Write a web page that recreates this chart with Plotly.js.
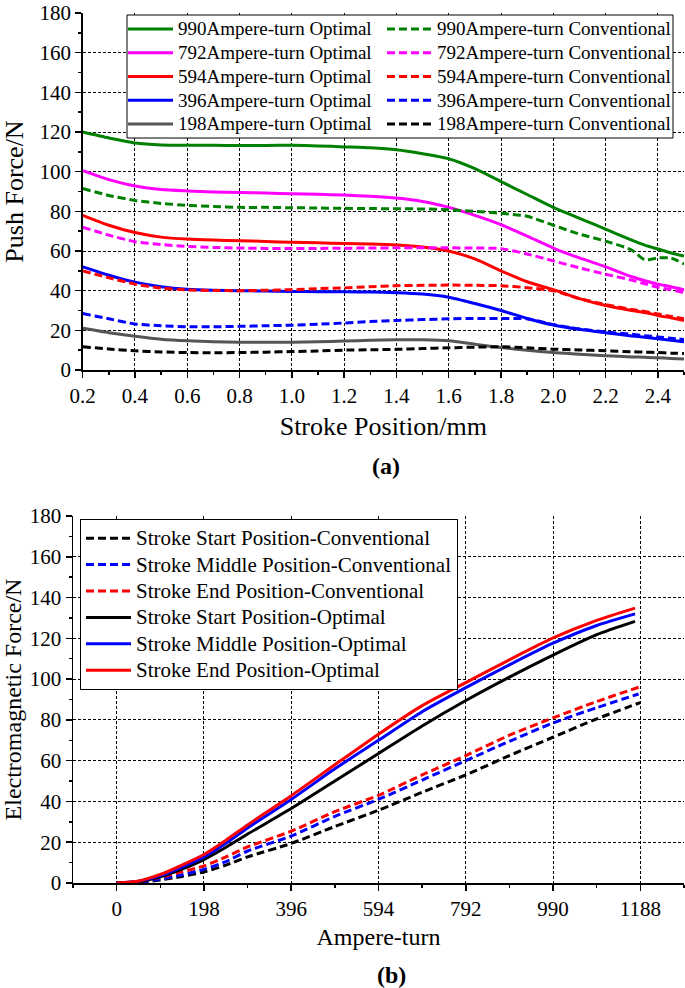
<!DOCTYPE html>
<html>
<head>
<meta charset="utf-8">
<script src="https://cdn.plot.ly/plotly-3.0.1.min.js"></script>
<style>html,body{margin:0;padding:0;background:#fff;}#chart{width:685px;height:988px;}</style>
</head>
<body>
<div id="chart"></div>
<script>
// ---------- (a) Push force vs stroke position ----------
const strokeX = [0.2,0.3,0.4,0.5,0.6,0.7,0.8,0.9,1.0,1.1,1.2,1.3,1.4,1.5,1.6,1.7,1.8,1.9,2.0,2.1,2.2,2.3,2.35,2.4,2.45,2.5];
const opt990  = [120,117,114.5,113.5,113.3,113.3,113.2,113.2,113.3,113,112.5,112,111,109,106.5,101.5,95,88.5,82,76.5,71,65.5,63,61,59,57.5];
const conv990 = [91.5,88,85.5,84,83,82.5,82,82,81.8,81.7,81.5,81.4,81.3,81.2,80.8,80,79,77.5,73,68.5,65,60.5,55.5,56.5,56.5,53.5];
const opt792  = [100.5,96,92.8,91,90.3,89.8,89.5,89.2,88.9,88.6,88.2,87.6,86.7,85,82,78,73.3,67.5,61.5,56.5,52,47,45,43.3,42,40.5];
const conv792 = [72,68,64.7,63.3,62.3,61.8,61.5,61.3,61.3,61.3,61.4,61.5,61.6,61.6,61.6,61.5,61.2,58.5,55,51.5,48.3,45.3,43.5,41.7,40.5,39];
const opt594  = [78,73,69.3,67,66,65.5,65.2,64.8,64.4,64.1,63.8,63.5,63,62,60,56,50,44.5,40.5,36,32.5,30,29,27.5,26.3,25];
const conv594 = [50,46.5,43.3,41.3,40.4,40.1,40,40.2,40.5,41,41.4,42,42.5,42.7,42.8,42.7,42.5,41.5,40,36,33,30.5,29.5,28.3,27,25.8];
const opt396  = [52,47.8,44.3,42,40.7,40.2,40,39.8,39.6,39.5,39.4,39.3,39,38.3,36.7,33.5,30,26,22.7,20.5,18.8,17.2,16.5,15.8,15,14.2];
const conv396 = [28.5,25.8,23.2,22.3,21.8,21.8,22,22.3,22.6,23.1,23.7,24.4,25,25.4,25.8,26,26,25.8,22.9,20.7,19.2,18,17.3,16.7,16,15.4];
const opt198  = [21,18.8,17,15.5,14.7,14.3,14,14,14,14.2,14.6,15,15.3,15.2,14.7,13,11.3,10,8.8,8,7.2,6.6,6.4,6.2,5.8,5.5];
const conv198 = [11.7,10.6,9.7,9.1,8.8,8.7,8.8,9,9.3,9.6,10,10.2,10.4,10.8,11.2,11.5,11.7,11.2,10.5,10.1,9.7,9.2,9,8.8,8.5,8.3];
const strokeTicks = [0.2,0.4,0.6,0.8,1.0,1.2,1.4,1.6,1.8,2.0,2.2,2.4];

// ---------- (b) Electromagnetic force vs ampere-turn ----------
const ampOpt  = [0,50,99,148,198,248,297,396,495,594,693,792,891,990,1089,1176];
const startOpt  = [0,0.6,3,6.8,11.5,17.5,24,36.5,50,63.5,77,89.5,101,111.8,121.8,128.3];
const middleOpt = [0,0.9,3.6,7.8,12.8,19.5,27,41,56,70,84,95.8,107,117.6,126.3,132];
const endOpt    = [0,1,4.2,8.8,14,21,28.5,42.8,58,73,87,98.3,109.5,120.2,128.8,134.8];
const ampConvStart = [0,50,99,148,198,248,297,396,495,594,693,792,891,990,1089,1188];
const ampConv      = [0,50,99,148,198,248,297,396,495,594,693,792,891,990,1089,1184];
const startConv  = [0,0.2,1.5,3.2,5.4,8.8,12.8,19.4,27.7,35.7,44.5,53,62.5,71.5,80.5,88.5];
const middleConv = [0,0.3,2,4,6.7,10.5,15.7,23,32.7,41,50.5,60,69.5,78.5,86,92.7];
const endConv    = [0,0.5,2.8,5.5,8.4,12.8,17.7,25.4,35,43,53,62.5,72.5,81,89,96];
const ampTicks = [0,198,396,594,792,990,1188];

const FONT = 'Liberation Serif, Times New Roman, serif';
const DASH = '8px,4px';
const LW = 3;
function nm(t, px){ return '<span style="font-size:' + px + 'px">' + t + '</span>'; }

const topSeries = [
  ['990Ampere-turn Optimal', opt990, '#008000', 'solid', 'legend'],
  ['792Ampere-turn Optimal', opt792, '#ff00ff', 'solid', 'legend'],
  ['594Ampere-turn Optimal', opt594, '#ff0000', 'solid', 'legend'],
  ['396Ampere-turn Optimal', opt396, '#0000ff', 'solid', 'legend'],
  ['198Ampere-turn Optimal', opt198, '#555555', 'solid', 'legend'],
  ['990Ampere-turn Conventional', conv990, '#008000', DASH, 'legend3'],
  ['792Ampere-turn Conventional', conv792, '#ff00ff', DASH, 'legend3'],
  ['594Ampere-turn Conventional', conv594, '#ff0000', DASH, 'legend3'],
  ['396Ampere-turn Conventional', conv396, '#0000ff', DASH, 'legend3'],
  ['198Ampere-turn Conventional', conv198, '#000000', DASH, 'legend3']
];
const bottomSeries = [
  ['Stroke Start Position-Conventional', ampConvStart, startConv, '#000000', DASH],
  ['Stroke Middle Position-Conventional', ampConv, middleConv, '#0000ff', DASH],
  ['Stroke End Position-Conventional', ampConv, endConv, '#ff0000', DASH],
  ['Stroke Start Position-Optimal', ampOpt, startOpt, '#000000', 'solid'],
  ['Stroke Middle Position-Optimal', ampOpt, middleOpt, '#0000ff', 'solid'],
  ['Stroke End Position-Optimal', ampOpt, endOpt, '#ff0000', 'solid']
];

const data = [];
topSeries.forEach(s => data.push({
  type:'scatter', mode:'lines', x:strokeX, y:s[1], name:nm(s[0],19),
  line:{color:s[2], width:LW, dash:s[3], shape:'spline', smoothing:0.6},
  xaxis:'x', yaxis:'y', legend:s[4], hoverinfo:'x+y'
}));
bottomSeries.forEach(s => data.push({
  type:'scatter', mode:'lines', x:s[1], y:s[2], name:nm(s[0],21),
  line:{color:s[3], width:LW, dash:s[4], shape:'spline', smoothing:0.6},
  xaxis:'x2', yaxis:'y2', legend:'legend2', hoverinfo:'x+y'
}));

const W = 685, H = 988;
const px2x = p => p / W;
const px2y = p => (H - p) / H;

const gridStyle = {showgrid:true, gridcolor:'#000', gridwidth:1, griddash:'3px,2px'};
const lineStyle = {showline:true, linecolor:'#000', linewidth:1.5, zeroline:false};
function mainAxis(extra){ return Object.assign({}, gridStyle, lineStyle, {
  ticks:'outside', ticklen:6, tickwidth:1.5, tickcolor:'#000', ticklabeloverflow:'allow'}, extra); }
function mirrorAxis(extra){ return Object.assign({}, lineStyle, {
  showgrid:false, showticklabels:false, ticks:'inside', ticklen:5, tickwidth:1.5, tickcolor:'#000'}, extra); }

const layout = {
  width:W, height:H, margin:{l:0,r:0,t:0,b:0},
  paper_bgcolor:'#fff', plot_bgcolor:'#fff',
  font:{family:FONT, color:'#000', size:20},
  showlegend:true,
  xaxis: mainAxis({domain:[px2x(82.7), px2x(684)], anchor:'y', range:[0.2,2.5],
    tickvals:strokeTicks, ticktext:strokeTicks.map(v=>v.toFixed(1)),
    minor:{dtick:0.1, tick0:0.2, ticks:'outside', ticklen:3, tickwidth:1.5, tickcolor:'#000', showgrid:false},
    tickfont:{size:21, family:FONT}, title:{text:'Stroke Position/mm', font:{size:26, family:FONT}, standoff:10}}),
  yaxis: mainAxis({domain:[px2y(370), px2y(13)], anchor:'x', range:[0,180], dtick:20, tick0:0,
    minor:{dtick:10, ticks:'outside', ticklen:3, tickwidth:1.5, tickcolor:'#000', showgrid:false},
    tickfont:{size:21, family:FONT}, title:{text:'Push Force/N', font:{size:26, family:FONT}, standoff:10}}),
  xaxis3: mirrorAxis({overlaying:'x', anchor:'y', side:'top', range:[0.2,2.5], tick0:0.2, dtick:0.2,
    minor:{dtick:0.1, tick0:0.2, ticks:'inside', ticklen:3, tickwidth:1.5, tickcolor:'#000'}}),
  yaxis3: mirrorAxis({overlaying:'y', anchor:'x', side:'right', range:[0,180], tick0:0, dtick:20,
    minor:{dtick:10, ticks:'inside', ticklen:3, tickwidth:1.5, tickcolor:'#000'}}),

  xaxis2: mainAxis({domain:[px2x(73), px2x(684)], anchor:'y2', range:[-99,1287],
    tickvals:ampTicks, ticktext:ampTicks.map(String),
    minor:{tick0:99, dtick:198, ticks:'outside', ticklen:3, tickwidth:1.5, tickcolor:'#000', showgrid:false},
    tickfont:{size:21, family:FONT}, title:{text:'Ampere-turn', font:{size:24, family:FONT}, standoff:8}}),
  yaxis2: mainAxis({domain:[px2y(883), px2y(516)], anchor:'x2', range:[0,180], dtick:20, tick0:0,
    minor:{dtick:10, ticks:'outside', ticklen:3, tickwidth:1.5, tickcolor:'#000', showgrid:false},
    tickfont:{size:21, family:FONT}, title:{text:'Electromagnetic Force/N', font:{size:24, family:FONT}, standoff:10}}),
  xaxis4: mirrorAxis({overlaying:'x2', anchor:'y2', side:'top', range:[-99,1287], tickvals:ampTicks,
    minor:{tick0:99, dtick:198, ticks:'inside', ticklen:3, tickwidth:1.5, tickcolor:'#000'}}),
  yaxis4: mirrorAxis({overlaying:'y2', anchor:'x2', side:'right', range:[0,180], tick0:0, dtick:20,
    minor:{dtick:10, ticks:'inside', ticklen:3, tickwidth:1.5, tickcolor:'#000'}}),

  legend:{orientation:'v', x:px2x(123), xanchor:'left', y:px2y(12), yanchor:'top',
    bgcolor:'rgba(0,0,0,0)', borderwidth:0, font:{size:16, family:FONT},
    itemwidth:45, traceorder:'normal'},
  legend3:{orientation:'v', x:px2x(382), xanchor:'left', y:px2y(12), yanchor:'top',
    bgcolor:'rgba(0,0,0,0)', borderwidth:0, font:{size:16, family:FONT},
    itemwidth:45, traceorder:'normal'},
  legend2:{orientation:'v', x:px2x(80), xanchor:'left', y:px2y(519), yanchor:'top',
    bgcolor:'#fff', bordercolor:'#000', borderwidth:1, font:{size:18, family:FONT},
    itemwidth:45, traceorder:'normal'},

  shapes:[
    {type:'rect', xref:'paper', yref:'paper', x0:px2x(127), x1:px2x(673), y0:px2y(138), y1:px2y(15),
     fillcolor:'#fff', line:{color:'#000', width:1}, layer:'above'}
  ],

  annotations:[
    {text:'<b>(a)</b>', xref:'paper', yref:'paper', x:px2x(386), y:px2y(466), xanchor:'center', yanchor:'middle',
     showarrow:false, font:{size:24, family:FONT}},
    {text:'<b>(b)</b>', xref:'paper', yref:'paper', x:px2x(392), y:px2y(975), xanchor:'center', yanchor:'middle',
     showarrow:false, font:{size:24, family:FONT}}
  ]
};

Plotly.newPlot('chart', data, layout, {displayModeBar:false, staticPlot:true});
</script>
</body>
</html>
